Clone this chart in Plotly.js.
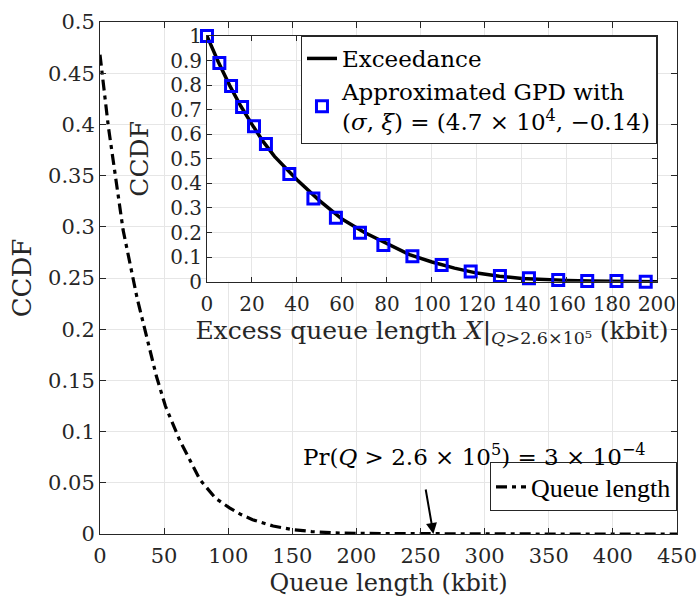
<!DOCTYPE html>
<html>
<head>
<meta charset="utf-8">
<script src="https://cdn.plot.ly/plotly-3.0.1.min.js"></script>
<style>html,body{margin:0;padding:0;background:#fff;}#chart{width:700px;height:603px;}</style>
</head>
<body>
<div id="chart"></div>
<script>
// Main curve: CCDF of queue length (kbit)
const queueX = [0, 6.5, 18, 29, 44, 51, 62, 78, 90, 101, 110, 119, 135, 150, 165, 182, 200, 230, 260, 300, 350, 400, 450];
const queueCCDF = [0.468, 0.398, 0.297, 0.23, 0.154, 0.125, 0.092, 0.053, 0.035, 0.0255, 0.019, 0.014, 0.0078, 0.0043, 0.0024, 0.0011, 0.0006, 0.0003, 0.0003, 0.0001, 0, 0, 0];

// Inset: exceedance CCDF
const excessX = [0, 5, 10, 15, 20, 25, 30, 40, 50, 60, 70, 80, 90, 100, 110, 120, 130, 140, 150, 160, 170, 180, 190, 200];
const exceedance = [1.0, 0.895, 0.80, 0.715, 0.64, 0.57, 0.51, 0.415, 0.33, 0.255, 0.2, 0.155, 0.11, 0.08, 0.055, 0.035, 0.022, 0.013, 0.008, 0.005, 0.003, 0.002, 0.001, 0.0];

// Inset: approximated GPD markers
const gpdX = [0, 5.5, 10.7, 15.6, 20.9, 26.2, 36.6, 47.3, 57.3, 68, 78.4, 91.3, 104.3, 117.2, 130.2, 143.1, 156.1, 169, 182, 195];
const gpdCCDF = [1.0, 0.89, 0.796, 0.711, 0.633, 0.56, 0.438, 0.339, 0.26, 0.199, 0.149, 0.104, 0.068, 0.041, 0.023, 0.014, 0.007, 0.003, 0.003, 0.0];

const mainXTicks = [0, 50, 100, 150, 200, 250, 300, 350, 400, 450];
const insetXTicks = [0, 20, 40, 60, 80, 100, 120, 140, 160, 180, 200];

const FONT = '"DejaVu Serif", "Liberation Serif", serif';
const TIMES = '"Liberation Serif", "DejaVu Serif", serif';
const INK = '#262626';
const GRID = '#e6e6e6';

const traces = [
  {
    x: queueX, y: queueCCDF, xaxis: 'x', yaxis: 'y', mode: 'lines', name: 'Queue length',
    line: {color: '#000', width: 3.2, dash: '11px,5px,4px,5px'}, legend: 'legend'
  },
  {
    x: excessX, y: exceedance, xaxis: 'x2', yaxis: 'y2', mode: 'lines', name: 'Exceedance',
    line: {color: '#000', width: 3.5}, legend: 'legend2', cliponaxis: false
  },
  {
    x: gpdX, y: gpdCCDF, xaxis: 'x2', yaxis: 'y2', mode: 'markers',
    name: 'Approximated GPD with<br>(<i>σ</i>, <i>ξ</i>) = (4.7 × 10<sup>4</sup>, −0.14)',
    marker: {symbol: 'square-open', size: 11, color: '#0000ff', line: {width: 3, color: '#0000ff'}},
    legend: 'legend2', cliponaxis: false
  }
];

const layout = {
  width: 700, height: 603,
  margin: {l: 100, r: 23, t: 22, b: 69},
  paper_bgcolor: '#fff', plot_bgcolor: '#fff',
  font: {family: FONT, color: INK, size: 21},
  showlegend: true,
  xaxis: {
    domain: [0, 1], range: [0, 450], tickvals: mainXTicks,
    showline: true, linecolor: INK, linewidth: 1, mirror: 'ticks',
    ticks: 'inside', ticklen: 6, tickcolor: INK, ticklabelstandoff: 3,
    showgrid: true, gridcolor: GRID, zeroline: false,
    tickfont: {size: 21},
    title: {text: 'Queue length (kbit)', font: {size: 24}, standoff: 6},
    automargin: false
  },
  yaxis: {
    domain: [0, 1], range: [0, 0.5], dtick: 0.05,
    showline: true, linecolor: INK, linewidth: 1, mirror: 'ticks',
    ticks: 'inside', ticklen: 6, tickcolor: INK,
    showgrid: true, gridcolor: GRID, zeroline: false,
    tickfont: {size: 21},
    title: {text: 'CCDF', font: {size: 26}, standoff: 8},
    automargin: false
  },
  xaxis2: {
    domain: [0.1854, 0.9653], range: [0, 200], tickvals: insetXTicks, anchor: 'y2',
    showline: true, linecolor: INK, linewidth: 1, mirror: 'ticks',
    ticks: 'inside', ticklen: 5, tickcolor: INK, ticklabelstandoff: 4,
    showgrid: true, gridcolor: GRID, zeroline: false,
    tickfont: {size: 20},
    title: {text: 'Excess queue length <i>X</i>|<sub><i>Q</i>>2.6×10⁵</sub> (kbit)', font: {size: 25}, standoff: 6},
    automargin: false
  },
  yaxis2: {
    domain: [0.4928, 0.9727], range: [0, 1], dtick: 0.1, anchor: 'x2',
    showline: true, linecolor: INK, linewidth: 1, mirror: 'ticks',
    ticks: 'inside', ticklen: 5, tickcolor: INK,
    showgrid: true, gridcolor: GRID, zeroline: false,
    tickfont: {size: 20},
    title: {text: 'CCDF', font: {size: 25}, standoff: 14},
    automargin: false
  },
  legend: {
    x: 1, xanchor: 'right', y: 0.044, yanchor: 'bottom',
    bgcolor: '#fff', bordercolor: INK, borderwidth: 1,
    font: {size: 26, family: TIMES, color: '#000'},
    tracegroupgap: 0
  },
  legend2: {
    x: 0.9653, xanchor: 'right', y: 0.9727, yanchor: 'top',
    bgcolor: '#fff', bordercolor: INK, borderwidth: 1,
    font: {size: 23, family: FONT, color: '#000'},
    tracegroupgap: 0
  },
  annotations: [
    {
      x: 291.7, y: 0.0773, xref: 'x', yref: 'y', showarrow: false,
      text: 'Pr(<i>Q</i> > 2.6 × 10<sup>5</sup>) = 3 × 10<sup>−4</sup>',
      font: {size: 23, family: FONT, color: '#000'}
    },
    {
      x: 260, y: 0, xref: 'x', yref: 'y', ax: -10, ay: -58, axref: 'pixel', ayref: 'pixel',
      text: ' ', showarrow: true, arrowhead: 2, arrowsize: 1.1, arrowwidth: 2, arrowcolor: '#000',
      standoff: 0, startstandoff: 0
    }
  ]
};

Plotly.newPlot('chart', traces, layout, {staticPlot: true, displayModeBar: false});
</script>
</body>
</html>
